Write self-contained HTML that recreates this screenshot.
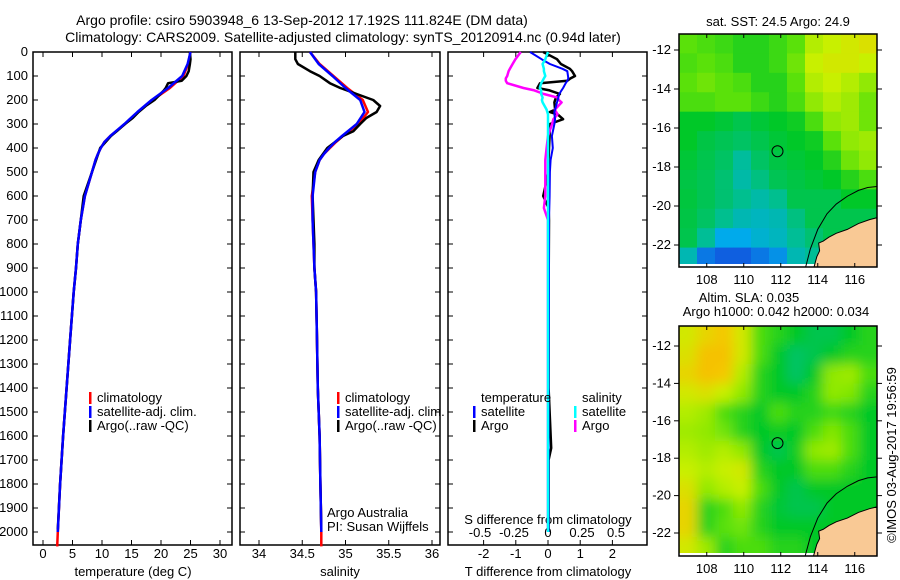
<!DOCTYPE html>
<html><head><meta charset="utf-8"><style>
html,body{margin:0;padding:0;background:#fff;}
svg{display:block;font-family:"Liberation Sans",sans-serif;}
text{font-size:13px;fill:#000;}
text.ttl{font-size:14px;}
</style></head><body>
<svg id="chart" width="900" height="580" viewBox="0 0 900 580" xmlns="http://www.w3.org/2000/svg">
<defs>
<filter id="blur" x="0" y="0" width="100%" height="100%"><feGaussianBlur stdDeviation="6"/></filter>
<clipPath id="clipTop"><rect x="679" y="34" width="198" height="233"/></clipPath>
<clipPath id="clipBot"><rect x="679" y="326" width="198" height="230"/></clipPath>
</defs>
<text class="ttl" x="302" y="25" text-anchor="middle">Argo profile: csiro 5903948_6 13-Sep-2012 17.192S 111.824E (DM data)</text>
<text class="ttl" x="343" y="42" text-anchor="middle">Climatology: CARS2009. Satellite-adjusted climatology: synTS_20120914.nc (0.94d later)</text>
<g id="g"></g>
<text transform="translate(896,455) rotate(-90)" text-anchor="middle">©IMOS 03-Aug-2017 19:56:59</text>
</svg>
<script>
// ---------- data ----------
const depthTicks = [0,100,200,300,400,500,600,700,800,900,1000,1100,1200,1300,1400,1500,1600,1700,1800,1900,2000];
const tempTicks = [0,5,10,15,20,25,30];
const salTicks = [34,34.5,35,35.5,36];
const tdiffTicks = [-2,-1,0,1,2];
const sdiffTicks = [-0.5,-0.25,0,0.25,0.5];

const climDepth = [0,50,100,150,200,250,300,350,375,400,425,450,500,600,700,800,900,1000,1200,1400,1600,1800,2000,2060];
const climTemp  = [25,24.6,23.8,21.5,18.6,16.1,13.9,11.4,10.4,9.8,9.3,8.9,8.3,7.1,6.4,5.9,5.6,5.2,4.6,4.0,3.4,2.9,2.5,2.4];
const satTemp   = [25,24.5,23.6,21.2,18.4,16.0,13.8,11.4,10.4,9.8,9.3,8.9,8.3,7.1,6.4,5.9,5.6,5.2,4.6,4.0,3.4,2.9,2.5,2.5];
const climSal   = [34.59,34.70,34.86,35.02,35.20,35.26,35.15,34.97,34.89,34.82,34.75,34.70,34.65,34.61,34.62,34.63,34.64,34.66,34.67,34.68,34.70,34.71,34.72,34.72];
const satSal    = [34.59,34.69,34.85,35.00,35.17,35.22,35.13,34.96,34.88,34.81,34.75,34.70,34.65,34.62,34.62,34.63,34.64,34.66,34.67,34.68,34.70,34.71,34.72,34.72];

const argoDepth = [0,30,50,80,100,120,130,150,160,175,200,225,250,275,300,330,350,400,450,500,600,700,800,900,1000,1200,1400,1600,1800,1990];
const argoTemp  = [24.9,25.0,24.9,24.7,24.3,23.5,21.2,20.8,20.5,19.9,18.9,17.4,16.2,15.2,13.9,12.5,11.5,9.7,9.0,8.3,6.9,6.4,5.9,5.6,5.2,4.6,4.0,3.4,2.9,2.5];
const argoSal   = [34.42,34.42,34.45,34.59,34.70,34.78,34.82,34.94,35.02,35.13,35.32,35.40,35.36,35.24,35.17,35.09,34.97,34.79,34.69,34.63,34.62,34.63,34.64,34.64,34.66,34.67,34.68,34.70,34.71,34.72];

const diffDepth = [0,30,50,70,80,100,110,120,130,150,160,175,190,200,210,240,250,260,280,300,350,400,450,500,600,650,700,1000,1400,1650,1700,2000];
const tSatDiff  = [-0.56,-0.2,0.06,0.45,0.6,0.62,0.63,0.6,0.55,0.47,0.42,0.35,0.32,0.3,0.28,0.22,0.2,0.2,0.22,0.2,0.12,0.15,0.08,0.06,0.05,0.04,0.03,0.03,0.02,0.02,0.02,0.02];
const tArgoDiff = [-0.15,0.28,0.4,0.68,0.75,0.84,0.7,0.6,-0.25,-0.33,0.05,0.37,0.25,0.22,0.2,0.22,0.06,0.3,0.47,0.06,0.05,0.03,0.02,0.02,-0.15,0.02,0.03,0.02,0.02,0.1,0.02,0.02];
const sSatDiff  = [0,-0.02,-0.04,-0.03,-0.03,-0.02,-0.03,-0.04,-0.05,-0.06,-0.05,-0.05,-0.04,-0.045,-0.04,-0.01,-0.005,0,0,0,0,0,0,0,0,0,0,0,0,0,0,0];
const sArgoDiff = [-0.2,-0.24,-0.26,-0.28,-0.29,-0.3,-0.31,-0.31,-0.3,-0.18,-0.1,-0.03,0.07,0.08,0.1,0.05,0.06,0.07,0.04,0.03,0.0,-0.01,-0.02,-0.02,-0.02,-0.03,0,0,0,0,0,0];

const sstGrid = [
[.62,.6,.58,.55,.55,.58,.62,.75,.78,.8,.82],
[.6,.62,.6,.55,.55,.58,.65,.78,.8,.8,.78],
[.62,.65,.62,.6,.55,.55,.62,.75,.78,.75,.7],
[.6,.6,.62,.62,.58,.55,.6,.7,.75,.72,.65],
[.5,.5,.48,.45,.48,.5,.52,.6,.7,.72,.65],
[.5,.46,.44,.42,.45,.48,.5,.52,.62,.7,.72],
[.48,.45,.42,.34,.42,.46,.48,.5,.55,.65,.7],
[.46,.44,.4,.32,.38,.44,.46,.48,.5,.55,.6],
[.47,.44,.4,.36,.32,.36,.45,.45,.45,.5,.5],
[.46,.42,.36,.3,.28,.3,.38,.45,.45,.45,.45],
[.45,.35,.2,.2,.25,.28,.35,.4,.45,.45,.45],
[.3,.1,.05,.05,.1,.15,.3,.35,.4,.4,.4]];
const slaGrid = [
[.8,.85,.88,.8,.6,.55,.5,.45,.45,.5,.55],
[.82,.9,.9,.8,.6,.5,.42,.45,.5,.55,.55],
[.85,.9,.88,.75,.55,.5,.42,.5,.7,.72,.6],
[.8,.82,.78,.7,.55,.5,.5,.55,.7,.68,.55],
[.75,.72,.6,.55,.5,.6,.55,.55,.58,.55,.5],
[.72,.7,.65,.55,.5,.52,.5,.6,.68,.6,.5],
[.75,.72,.75,.7,.5,.45,.52,.7,.72,.6,.5],
[.78,.75,.78,.8,.55,.5,.5,.6,.6,.55,.5],
[.82,.7,.75,.78,.6,.5,.45,.5,.5,.5,.5],
[.85,.55,.6,.7,.55,.48,.45,.45,.5,.5,.5],
[.85,.55,.62,.65,.55,.5,.5,.5,.5,.5,.5],
[.8,.72,.55,.6,.6,.55,.55,.5,.5,.5,.5]];
const lonTicks = [108,110,112,114,116];
const latTicks = [-12,-14,-16,-18,-20,-22];
const argoLon = 111.824, argoLat = -17.192;
const landLon = [113.75,113.95,114.1,114.05,114.3,114.6,115.0,115.6,116.2,116.8,117.2,117.2];
const landLat = [-23.3,-22.6,-22.3,-21.9,-21.8,-21.6,-21.4,-21.2,-20.9,-20.7,-20.6,-23.3];
const shelfLon = [113.3,113.6,114.0,114.5,115.0,115.6,116.2,116.7,117.2];
const shelfLat = [-23.3,-22.2,-21.2,-20.4,-19.9,-19.5,-19.2,-19.05,-19.0];

// ---------- drawing ----------
const NS='http://www.w3.org/2000/svg';
const G=document.getElementById('g');
function el(tag,attrs,parent){const e=document.createElementNS(NS,tag);for(const k in attrs)e.setAttribute(k,attrs[k]);(parent||G).appendChild(e);return e;}
function txt(x,y,s,anchor){const t=el('text',{x:x,y:y,'text-anchor':anchor||'middle'});t.textContent=s;return t;}

const top0=52, bot=545, dpp=0.24;
const yD=d=>top0+d*dpp;
const P1={l:33,r:232}, P2={l:240,r:440}, P3={l:448,r:647};
const xT=v=>43+v*5.9;
const xS=v=>259+(v-34)*86.5;
const xTd=v=>548+v*32.2;
const xSd=v=>548+v*136;

function frame(P,name){
  const r=el('rect',{x:P.l,y:top0,width:P.r-P.l,height:bot-top0,fill:'none',stroke:'#000','stroke-width':1.5});
  
  
  depthTicks.forEach(d=>{el('line',{x1:P.l,x2:P.l+5,y1:yD(d),y2:yD(d),stroke:'#000'});el('line',{x1:P.r-5,x2:P.r,y1:yD(d),y2:yD(d),stroke:'#000'});});
}
frame(P1,'temperature-plot-area');frame(P2,'salinity-plot-area');frame(P3,'difference-plot-area');
depthTicks.forEach(d=>{const t=txt(28,yD(d)+4,String(d),'end');});

function xticks(P,ticks,fx,y0){ticks.forEach(v=>{const x=fx(v);el('line',{x1:x,x2:x,y1:bot-5,y2:bot,stroke:'#000'});el('line',{x1:x,x2:x,y1:top0,y2:top0+5,stroke:'#000'});const t=txt(x,y0,String(v));});}
xticks(P1,tempTicks,xT,558);
xticks(P2,salTicks,xS,558);
xticks(P3,tdiffTicks,xTd,558);
sdiffTicks.forEach(v=>{const t=txt(xSd(v),537,String(v));});

let t;
t=txt(133,576,'temperature (deg C)');
t=txt(340,576,'salinity');
t=txt(548,576,'T difference from climatology');
t=txt(548,524,'S difference from climatology');

function line(depths,vals,fx,color,w,name){
  const pts=depths.map((d,i)=>fx(vals[i]).toFixed(1)+','+yD(d).toFixed(1)).join(' ');
  const p=el('polyline',{points:pts,fill:'none',stroke:color,'stroke-width':w,'stroke-linejoin':'round'});
  
  
}
line(climDepth,climTemp,xT,'#f00',2.5,'temperature-climatology-line');
line(argoDepth,argoTemp,xT,'#000',2.5,'temperature-argo-line');
line(climDepth.slice(0,23),satTemp.slice(0,23),xT,'#00f',2.5,'temperature-satellite-line');
line(climDepth,climSal,xS,'#f00',2.5,'salinity-climatology-line');
line(argoDepth,argoSal,xS,'#000',2.5,'salinity-argo-line');
line(climDepth.slice(0,23),satSal.slice(0,23),xS,'#00f',2.5,'salinity-satellite-line');
line(diffDepth,tArgoDiff,xTd,'#000',2.5,'t-diff-argo-line');
line(diffDepth,sArgoDiff,xSd,'#f0f',2.5,'s-diff-argo-line');
line(diffDepth,tSatDiff,xTd,'#00f',2,'t-diff-satellite-line');
line(diffDepth,sSatDiff,xSd,'#0ff',2.5,'s-diff-satellite-line');

function legend(x,y,color,label,name){
  const g=el('g',{});
  
  
  el('rect',{x:x,y:y-10,width:2.5,height:12,fill:color},g);
  const tt=el('text',{x:x+8,y:y},g);tt.textContent=label;
}
legend(89,402,'#f00','climatology','legend-entry-climatology');
legend(89,416,'#00f','satellite-adj. clim.','legend-entry-satellite-adj');
legend(89,430,'#000','Argo(..raw -QC)','legend-entry-argo');
legend(337,402,'#f00','climatology','legend-entry-climatology-sal');
legend(337,416,'#00f','satellite-adj. clim.','legend-entry-satellite-adj-sal');
legend(337,430,'#000','Argo(..raw -QC)','legend-entry-argo-sal');
t=txt(481,402,'temperature','start');
t=txt(582,402,'salinity','start');
legend(473,416,'#00f','satellite','legend-entry-t-satellite');
legend(473,430,'#000','Argo','legend-entry-t-argo');
legend(574,416,'#0ff','satellite','legend-entry-s-satellite');
legend(574,430,'#f0f','Argo','legend-entry-s-argo');
t=txt(327,517,'Argo Australia','start');
t=txt(327,531,'PI: Susan Wijffels','start');

const cstops=[[0,[20,70,220]],[0.2,[0,170,235]],[0.35,[0,190,150]],[0.5,[0,200,40]],[0.62,[90,225,10]],[0.78,[200,240,0]],[0.88,[245,200,0]],[1,[245,160,0]]];
function cmap(v){for(let i=1;i<cstops.length;i++){if(v<=cstops[i][0]){const a=cstops[i-1],b=cstops[i];const f=(v-a[0])/(b[0]-a[0]);return 'rgb('+a[1].map((c,k)=>Math.round(c+(b[1][k]-c)*f)).join(',')+')';}}return 'rgb(245,160,0)';}

function map(M,grid,blur,name){
  const xL=lon=>679+(lon-106.5)*18.5;
  const yL=lat=>M.y0+(M.latTop-lat)*M.ppd;
  const g=el('g',{'clip-path':'url(#'+M.clip+')'});
  
  
  const inner=el('g',blur?{filter:'url(#blur)'}:{},g);
  const nr=grid.length,nc=grid[0].length;
  const cw=198/nc,ch=M.h/nr;
  const pad=blur?20:0;
  grid.forEach((row,i)=>row.forEach((v,j)=>{
    let x=679+j*cw,y=M.y0+i*ch,w=cw+0.5,h=ch+0.5;
    if(blur){if(j===0){x-=pad;w+=pad;}if(j===nc-1)w+=pad;if(i===0){y-=pad;h+=pad;}if(i===nr-1)h+=pad;}
    const c=el('rect',{x:x,y:y,width:w,height:h,fill:cmap(v)},inner);
    
    
  }));
  el('rect',{x:679,y:M.y0+M.h-3,width:198,height:3,fill:'#fff'},g);
  const land=el('polygon',{points:landLon.map((l,i)=>xL(l)+','+yL(landLat[i])).join(' '),fill:'#f9c995',stroke:'#000','stroke-width':1},g);
  
  
  const sh=el('polyline',{points:shelfLon.map((l,i)=>xL(l)+','+yL(shelfLat[i])).join(' '),fill:'none',stroke:'#000','stroke-width':1},g);
  
  
  const c=el('circle',{cx:xL(argoLon),cy:yL(argoLat),r:5.5,fill:'none',stroke:'#000','stroke-width':1});
  
  
  el('rect',{x:679,y:M.y0,width:198,height:M.h,fill:'none',stroke:'#000','stroke-width':1.5});
  lonTicks.forEach(l=>{const x=xL(l);el('line',{x1:x,x2:x,y1:M.y0,y2:M.y0+4,stroke:'#000'});el('line',{x1:x,x2:x,y1:M.y0+M.h-4,y2:M.y0+M.h,stroke:'#000'});
    const tt=txt(x,M.y0+M.h+17,String(l));});
  latTicks.forEach(l=>{const y=yL(l);el('line',{x1:674,x2:679,y1:y,y2:y,stroke:'#000'});el('line',{x1:877,x2:882,y1:y,y2:y,stroke:'#000'});
    const tt=txt(671,y+4,String(l),'end');});
}
map({y0:34,h:233,latTop:-11.18,ppd:19.5,clip:'clipTop'},sstGrid,false,'sst-map');
map({y0:326,h:230,latTop:-10.93,ppd:18.7,clip:'clipBot'},slaGrid,true,'sla-map');
t=txt(778,26,'sat. SST: 24.5 Argo: 24.9');
t=txt(749,302,'Altim. SLA: 0.035');
t=txt(776,316,'Argo h1000: 0.042 h2000: 0.034');
</script>
</body></html>
